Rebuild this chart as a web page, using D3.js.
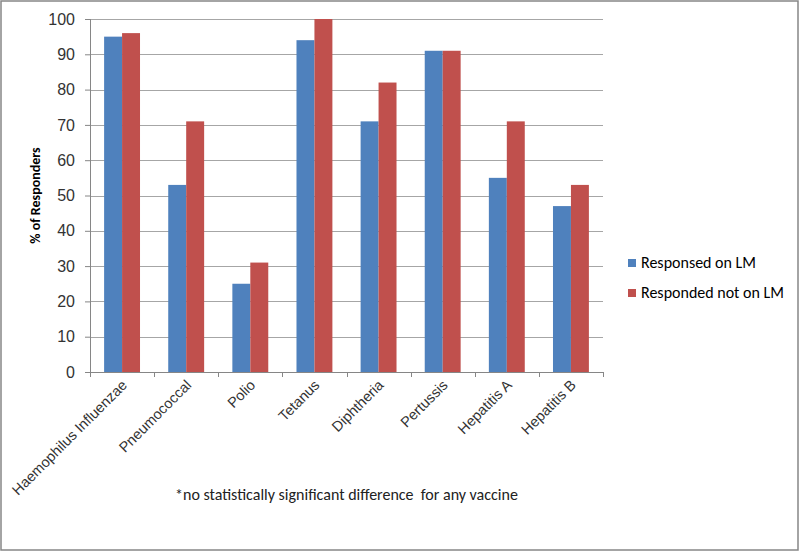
<!DOCTYPE html>
<html>
<head>
<meta charset="utf-8">
<title>Vaccine response</title>
<script src="https://d3js.org/d3.v7.min.js"></script>
<style>
  body { margin: 0; background: #fff; }
  svg { font-family: Carlito, Lato, sans-serif; }
  .axis text { fill: #333; font-size: 16px; }
  .grid line { stroke: #a6a6a6; }
</style>
</head>
<body>
<div id="chart"></div>
<script>
var categories = ["Haemophilus Influenzae", "Pneumococcal", "Polio", "Tetanus", "Diphtheria", "Pertussis", "Hepatitis A", "Hepatitis B"];
var seriesNames = ["Responsed on LM", "Responded not on LM"];
var onLM = [95, 53, 25, 94, 71, 91, 55, 47];
var notOnLM = [96, 71, 31, 100, 82, 91, 71, 53];
var yTicks = [0, 10, 20, 30, 40, 50, 60, 70, 80, 90, 100];
var colors = ["#4f81bd", "#c0504d"];

var W = 800, H = 552;
var margin = { top: 19, left: 90, right: 197, bottom: 180 };
var width = W - margin.left - margin.right,
    height = H - margin.top - margin.bottom;

var svg = d3.select("#chart").append("svg")
  .attr("width", W).attr("height", H);

// outer frame
svg.append("rect")
  .attr("x", 1).attr("y", 1).attr("width", W - 3).attr("height", H - 3)
  .attr("fill", "#fff").attr("stroke", "#868686").attr("stroke-width", 1.5);

var g = svg.append("g")
  .attr("transform", "translate(" + margin.left + "," + margin.top + ")");

var x0 = d3.scaleBand().domain(categories).range([0, width]).paddingInner(0).paddingOuter(0);
var x1 = d3.scaleBand().domain([0, 1]).range([x0.bandwidth() * 0.22, x0.bandwidth() * 0.78]);
var y = d3.scaleLinear().domain([0, 100]).range([height, 0]);

// gridlines
g.append("g").attr("class", "grid")
  .selectAll("line").data(yTicks.filter(function (d) { return d > 0; }))
  .enter().append("line")
  .attr("x1", 0).attr("x2", width)
  .attr("y1", function (d) { return Math.round(y(d)) + 0.5; })
  .attr("y2", function (d) { return Math.round(y(d)) + 0.5; });

var rows = categories.map(function (c, i) { return { cat: c, vals: [onLM[i], notOnLM[i]] }; });

g.selectAll(".grp").data(rows).enter().append("g")
  .attr("class", "grp")
  .attr("transform", function (d) { return "translate(" + x0(d.cat) + ",0)"; })
  .selectAll("rect").data(function (d) { return d.vals; })
  .enter().append("rect")
  .attr("x", function (d, i) { return x1(i); })
  .attr("width", x1.bandwidth())
  .attr("y", function (d) { return y(d); })
  .attr("height", function (d) { return height - y(d); })
  .attr("fill", function (d, i) { return colors[i]; });

// y axis
var yAxis = g.append("g").attr("class", "axis")
  .call(d3.axisLeft(y).tickValues(yTicks).tickSize(5).tickPadding(10));
yAxis.selectAll("line").attr("stroke", "#868686");
yAxis.select(".domain").attr("stroke", "#868686").attr("d", "M0.5,0V" + height);

// x axis
var xAxis = g.append("g").attr("class", "axis")
  .attr("transform", "translate(0," + height + ")")
  .call(d3.axisBottom(x0).tickSize(0).tickFormat(""));
xAxis.select(".domain").attr("stroke", "#868686").attr("d", "M0," + 0.5 + "H" + width);
xAxis.selectAll(".sep").data(d3.range(categories.length + 1)).enter().append("line")
  .attr("class", "sep")
  .attr("x1", function (d) { return Math.round(d * x0.bandwidth()) + 0.5; })
  .attr("x2", function (d) { return Math.round(d * x0.bandwidth()) + 0.5; })
  .attr("y1", 0).attr("y2", 5).attr("stroke", "#868686");

xAxis.selectAll(".lbl").data(categories).enter().append("text")
  .attr("class", "lbl")
  .attr("transform", function (d) {
    return "translate(" + (x0(d) + x0.bandwidth() / 2 + 6) + ",14) rotate(-45)";
  })
  .attr("text-anchor", "end")
  .attr("fill", "#000")
  .style("font-size", "14.5px")
  .text(function (d) { return d; });

// y title
svg.append("text")
  .attr("transform", "translate(40," + (margin.top + height / 2) + ") rotate(-90)")
  .attr("text-anchor", "middle")
  .style("font-size", "14px").style("font-weight", "bold")
  .text("% of Responders");

// footnote
svg.append("text")
  .attr("x", 175).attr("y", 500)
  .style("font-size", "16px").attr("fill", "#222")
  .text("*no statistically significant difference  for any vaccine")
  .attr("xml:space", "preserve").style("white-space", "pre");

// legend
var leg = svg.append("g").attr("transform", "translate(628,259)");
seriesNames.forEach(function (s, i) {
  var r = leg.append("g").attr("transform", "translate(0," + i * 30 + ")");
  r.append("rect").attr("width", 8).attr("height", 8).attr("fill", colors[i]);
  r.append("text").attr("x", 13).attr("y", 9).style("font-size", "16px").text(s);
});
</script>
</body>
</html>
